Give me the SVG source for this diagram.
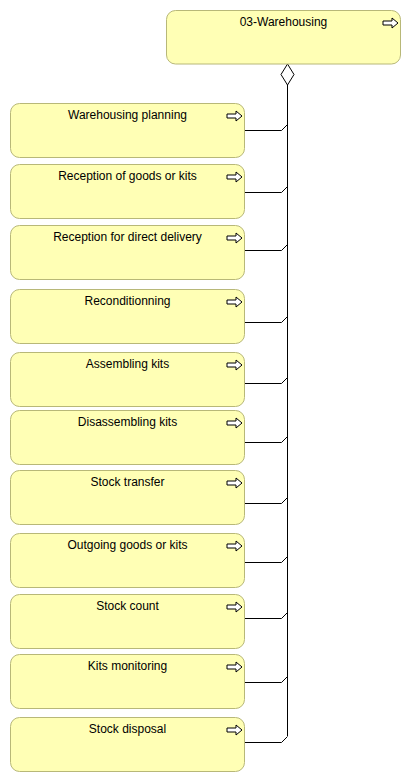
<svg xmlns="http://www.w3.org/2000/svg" width="411" height="782" viewBox="0 0 411 782">
<defs>
<style>
.box{fill:#ffffb5;stroke:#b8b878;stroke-width:1}
.lbl{font-family:"Liberation Sans",Arial,sans-serif;font-size:12px;fill:#000;text-anchor:middle}
.ico{fill:#fff;stroke:#000;stroke-width:1;stroke-linejoin:miter}
.con{fill:none;stroke:#000;stroke-width:1}
</style>
<polygon id="arr" class="ico" points="0,3 9,3 9,0 15,5 9,10 9,7 0,7"/>
</defs>
<rect width="411" height="782" fill="#fff"/>
<g id="connectors">
<path class="con" d="M287.5,85 V736"/>
<polygon class="con" points="287.5,64 294,74.5 287.5,85 281,74.5" style="fill:#fff"/>
<path class="con" d="M245,130.5 H281.5 L287.5,124.5"/>
<path class="con" d="M245,192.5 H281.5 L287.5,186.5"/>
<path class="con" d="M245,250.5 H281.5 L287.5,244.5"/>
<path class="con" d="M245,322.5 H281.5 L287.5,316.5"/>
<path class="con" d="M245,383.5 H281.5 L287.5,377.5"/>
<path class="con" d="M245,442.5 H281.5 L287.5,436.5"/>
<path class="con" d="M245,503.5 H281.5 L287.5,497.5"/>
<path class="con" d="M245,562.5 H281.5 L287.5,556.5"/>
<path class="con" d="M245,618.5 H281.5 L287.5,612.5"/>
<path class="con" d="M245,682.5 H281.5 L287.5,676.5"/>
<path class="con" d="M245,742.5 H281.5 L287.5,736.5"/>
</g>
<g id="n0"><rect class="box" x="166.5" y="10.5" width="234" height="53.5" rx="9"/><text class="lbl" x="283.5" y="25.5">03-Warehousing</text><use href="#arr" x="383" y="18"/></g>
<g id="n1"><rect class="box" x="10.5" y="103.5" width="234" height="54" rx="9"/><text class="lbl" x="127.5" y="118.5">Warehousing planning</text><use href="#arr" x="227" y="111"/></g>
<g id="n2"><rect class="box" x="10.5" y="164.5" width="234" height="54" rx="9"/><text class="lbl" x="127.5" y="179.5">Reception of goods or kits</text><use href="#arr" x="227" y="172"/></g>
<g id="n3"><rect class="box" x="10.5" y="225.5" width="234" height="54" rx="9"/><text class="lbl" x="127.5" y="240.5">Reception for direct delivery</text><use href="#arr" x="227" y="233"/></g>
<g id="n4"><rect class="box" x="10.5" y="289.5" width="234" height="54" rx="9"/><text class="lbl" x="127.5" y="304.5">Reconditionning</text><use href="#arr" x="227" y="297"/></g>
<g id="n5"><rect class="box" x="10.5" y="352.5" width="234" height="54" rx="9"/><text class="lbl" x="127.5" y="367.5">Assembling kits</text><use href="#arr" x="227" y="360"/></g>
<g id="n6"><rect class="box" x="10.5" y="410.5" width="234" height="54" rx="9"/><text class="lbl" x="127.5" y="425.5">Disassembling kits</text><use href="#arr" x="227" y="418"/></g>
<g id="n7"><rect class="box" x="10.5" y="470.5" width="234" height="54" rx="9"/><text class="lbl" x="127.5" y="485.5">Stock transfer</text><use href="#arr" x="227" y="478"/></g>
<g id="n8"><rect class="box" x="10.5" y="533.5" width="234" height="54" rx="9"/><text class="lbl" x="127.5" y="548.5">Outgoing goods or kits</text><use href="#arr" x="227" y="541"/></g>
<g id="n9"><rect class="box" x="10.5" y="594.5" width="234" height="54" rx="9"/><text class="lbl" x="127.5" y="609.5">Stock count</text><use href="#arr" x="227" y="602"/></g>
<g id="n10"><rect class="box" x="10.5" y="654.5" width="234" height="54" rx="9"/><text class="lbl" x="127.5" y="669.5">Kits monitoring</text><use href="#arr" x="227" y="662"/></g>
<g id="n11"><rect class="box" x="10.5" y="717.5" width="234" height="54" rx="9"/><text class="lbl" x="127.5" y="732.5">Stock disposal</text><use href="#arr" x="227" y="725"/></g>
</svg>
